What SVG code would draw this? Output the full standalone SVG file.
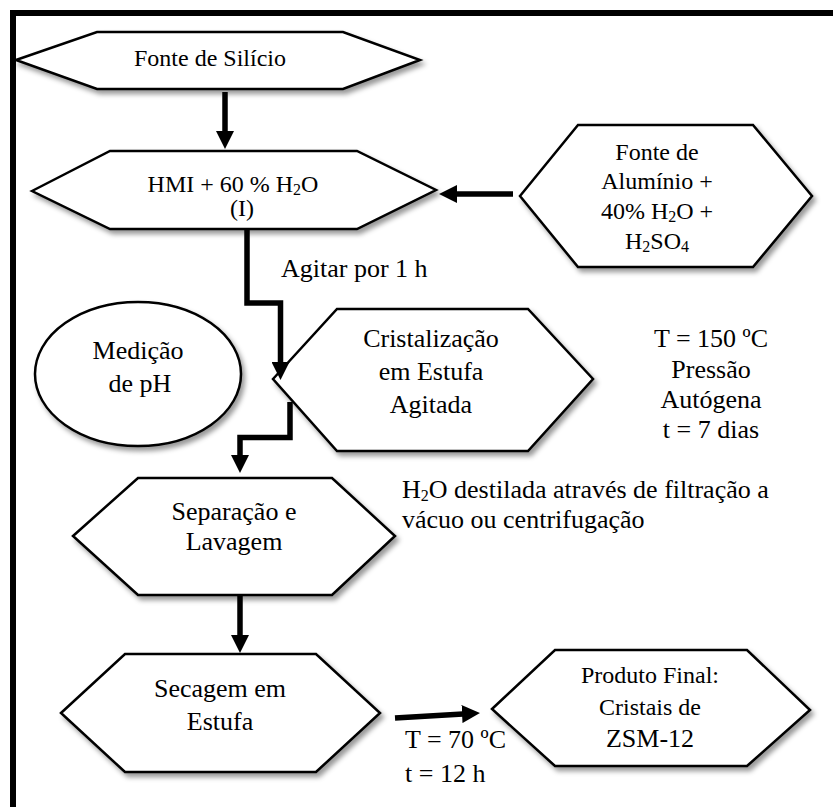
<svg xmlns="http://www.w3.org/2000/svg" width="833" height="807" viewBox="0 0 833 807">
<style>
.shape{fill:#fff;stroke:#000;stroke-width:2.5;stroke-linejoin:miter;filter:url(#sh)}
.t{font-family:"Liberation Serif","Times New Roman",serif;fill:#000}
.s24{font-size:24px}
.s26{font-size:26px}
.c{text-anchor:middle}
.conn{fill:none;stroke:#000;stroke-width:5.5;stroke-linejoin:miter}
.sub{font-size:16px}
</style>
<defs>
<filter id="sh" x="-10%" y="-10%" width="125%" height="130%">
<feDropShadow dx="3" dy="4" stdDeviation="2.5" flood-color="#000" flood-opacity="0.4"/>
</filter>
<marker id="ah" markerUnits="userSpaceOnUse" markerWidth="18" markerHeight="18" refX="1" refY="9" orient="auto" viewBox="0 0 18 18">
<path d="M0,0 L18,9 L0,18 z" fill="#000"/>
</marker>
</defs>
<rect width="833" height="807" fill="#fff"/>
<path d="M13,807 V13 H833" fill="none" stroke="#000" stroke-width="6"/>

<g id="n-fonte-silicio">
<polygon class="shape" points="16,60 97,32 343,32 420,60 343,89 97,89"/>
<text class="t s24 c" x="210" y="66">Fonte de Silício</text>
</g>

<g id="n-hmi">
<polygon class="shape" points="32,191 110,151 357,151 436,190 357,229 110,229"/>
<text class="t s24 c" x="233" y="192">HMI + 60 % H<tspan class="sub" dy="3">2</tspan><tspan dy="-3">O</tspan></text>
<text class="t s24 c" x="242" y="216">(I)</text>
</g>

<g id="n-fonte-aluminio">
<polygon class="shape" points="520,196 578,125 753,125 812,196 753,267 578,267"/>
<text class="t s24 c" x="657" y="160">Fonte de</text>
<text class="t s24 c" x="657" y="189">Alumínio +</text>
<text class="t s24 c" x="657" y="219">40% H<tspan class="sub" dy="3">2</tspan><tspan dy="-3">O +</tspan></text>
<text class="t s24 c" x="657" y="249">H<tspan class="sub" dy="3">2</tspan><tspan dy="-3">SO</tspan><tspan class="sub" dy="3">4</tspan></text>
</g>

<g id="n-medicao">
<ellipse class="shape" cx="138" cy="374" rx="103" ry="72"/>
<text class="t s26 c" x="138" y="359">Medição</text>
<text class="t s26 c" x="140" y="392">de pH</text>
</g>

<g id="n-cristalizacao">
<polygon class="shape" points="273,379 337,309 528,309 593,379 528,451 337,451"/>
<text class="t s26 c" x="431" y="347">Cristalização</text>
<text class="t s26 c" x="431" y="380">em Estufa</text>
<text class="t s26 c" x="431" y="413">Agitada</text>
</g>

<g id="lbl-condicoes">
<text class="t s26 c" x="711" y="347">T = 150 ºC</text>
<text class="t s26 c" x="711" y="378">Pressão</text>
<text class="t s26 c" x="711" y="408">Autógena</text>
<text class="t s26 c" x="711" y="438">t = 7 dias</text>
</g>

<g id="n-separacao">
<polygon class="shape" points="73,536 138,478 332,478 395,536 332,595 138,595"/>
<text class="t s26 c" x="234" y="520">Separação e</text>
<text class="t s26 c" x="234" y="550">Lavagem</text>
</g>

<g id="n-secagem">
<polygon class="shape" points="61,713 125,654 316,654 380,713 316,772 125,772"/>
<text class="t s26 c" x="220" y="697">Secagem em</text>
<text class="t s26 c" x="220" y="730">Estufa</text>
</g>

<g id="n-produto">
<polygon class="shape" points="492,709 555,650 747,650 810,710 747,766 555,766"/>
<text class="t s24 c" x="650" y="683">Produto Final:</text>
<text class="t s24 c" x="650" y="715">Cristais de</text>
<text class="t s26 c" x="650" y="747">ZSM-12</text>
</g>

<g id="labels">
<text class="t s26" x="281" y="277">Agitar por 1 h</text>
<text class="t s26" x="402" y="498">H<tspan class="sub" dy="3">2</tspan><tspan dy="-3">O destilada através de filtração a</tspan></text>
<text class="t s26" x="402" y="528">vácuo ou centrifugação</text>
<text class="t s26" x="405" y="748">T = 70 ºC</text>
<text class="t s26" x="405" y="782">t = 12 h</text>
</g>

<g id="connectors">
<path class="conn" d="M225,92 V132" marker-end="url(#ah)"/>
<path class="conn" d="M513,194 H456" marker-end="url(#ah)"/>
<path class="conn" d="M247,230 V303 H280.5 V363" marker-end="url(#ah)"/>
<path class="conn" d="M290,402 V437.5 H240 V456" marker-end="url(#ah)"/>
<path class="conn" d="M240,595 V636" marker-end="url(#ah)"/>
<path class="conn" d="M395,718 L463,714" marker-end="url(#ah)"/>
</g>
</svg>
